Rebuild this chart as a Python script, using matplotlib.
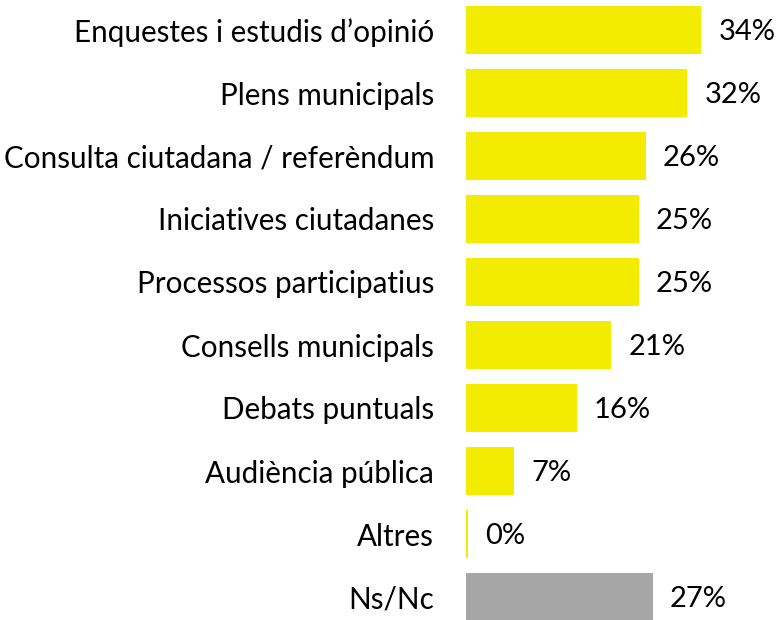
import matplotlib
matplotlib.use("Agg")
import matplotlib.pyplot as plt

categories = ["Enquestes i estudis d\u2019opinió", "Plens municipals",
              "Consulta ciutadana / referèndum", "Iniciatives ciutadanes",
              "Processos participatius", "Consells municipals",
              "Debats puntuals", "Audiència pública", "Altres", "Ns/Nc"]
values = [34, 32, 26, 25, 25, 21, 16, 7, 0.3, 27]
labels = ["34%", "32%", "26%", "25%", "25%", "21%", "16%", "7%", "0%", "27%"]
colors = ["#F3EC00"] * 9 + ["#A6A6A6"]

plt.rcParams['font.family'] = ['Lato', 'DejaVu Sans']

fig = plt.figure(figsize=(7.79, 6.2), dpi=100)
ax = fig.add_axes([466 / 779, 0, 1 - 466 / 779, 1])
y = list(range(len(categories)))
ax.barh(y, values, height=48 / 63, color=colors)
ax.set_xlim(0, (779 - 466) / 6.92)
ax.set_ylim(9 + 23 / 63, -30 / 63)
ax.set_yticks(y)
ax.set_yticklabels(categories, fontsize=21.3, color="#000000")
ax.tick_params(axis='y', length=0, pad=23)
ax.set_xticks([])
for s in ax.spines.values():
    s.set_visible(False)
for yi, v, lab in zip(y, values, labels):
    ax.annotate(lab, (v, yi), xytext=(12.3, -1.5), textcoords="offset points",
                va="center", ha="left", fontsize=21, color="#000000")
fig.savefig("out.png", dpi=100)
